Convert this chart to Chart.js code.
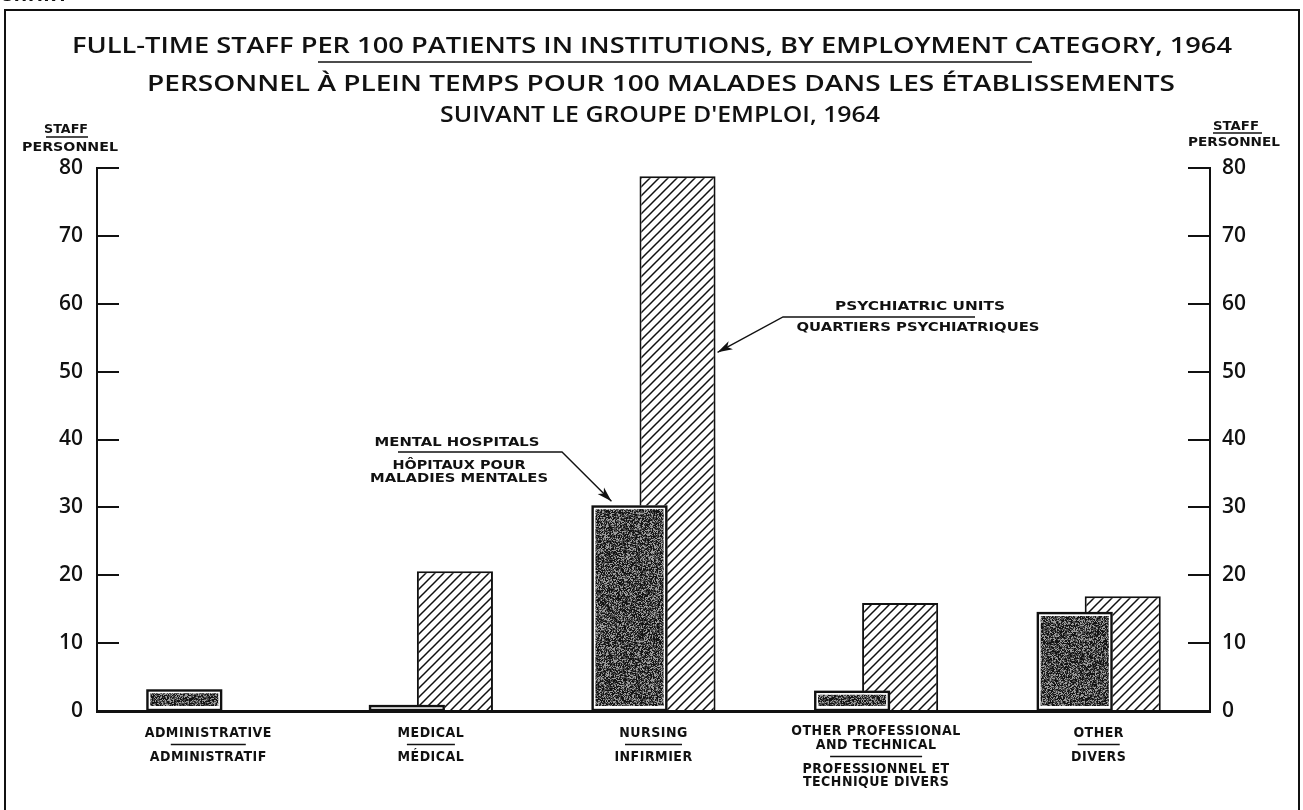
<!DOCTYPE html>
<html>
<head>
<meta charset="utf-8">
<script src="https://cdn.jsdelivr.net/npm/chart.js@4.4.1/dist/chart.umd.min.js"></script>
<style>
  html, body { margin: 0; padding: 0; background: #fff; }
  #wrap { width: 1303px; height: 810px; position: relative; }
</style>
</head>
<body>
<div id="wrap"><canvas id="chart"></canvas></div>
<script>
// --- data ---
const categoriesEn = [['ADMINISTRATIVE'], ['MEDICAL'], ['NURSING'], ['OTHER PROFESSIONAL', 'AND TECHNICAL'], ['OTHER']];
const categoriesFr = [['ADMINISTRATIF'], ['MÉDICAL'], ['INFIRMIER'], ['PROFESSIONNEL ET', 'TECHNIQUE DIVERS'], ['DIVERS']];
const mentalHospitals = [3.2, 0.9, 30.3, 3.0, 14.6];
const psychiatricUnits = [0, 20.6, 78.8, 15.9, 16.9];
const yMin = 0, yMax = 80, yStep = 10;

const titleEn = 'FULL-TIME STAFF PER 100 PATIENTS IN INSTITUTIONS, BY EMPLOYMENT CATEGORY, 1964';
const titleFr = ['PERSONNEL À PLEIN TEMPS POUR 100 MALADES DANS LES ÉTABLISSEMENTS', "SUIVANT LE GROUPE D'EMPLOI, 1964"];
const axisTitle = ['STAFF', 'PERSONNEL'];
const mentalLabel = ['MENTAL HOSPITALS', 'HÔPITAUX POUR', 'MALADIES MENTALES'];
const psychLabel = ['PSYCHIATRIC UNITS', 'QUARTIERS PSYCHIATRIQUES'];

// width of the rule between English and French under each category
const ruleWidths = [75, 48, 57, 92, 42];

const INK = '#111';

// grey speckled fill used for the mental hospital bars
function stipple() {
  const n = 128;
  const c = document.createElement('canvas');
  c.width = n; c.height = n;
  const g = c.getContext('2d');
  const img = g.createImageData(n, n);
  let s = 2463534242;
  for (let i = 0; i < n * n; i++) {
    // xorshift, only for the grain texture
    s ^= s << 13; s >>>= 0;
    s ^= s >>> 17;
    s ^= s << 5; s >>>= 0;
    const r = s & 255;
    const v = r < 95 ? 20 : r < 185 ? 75 : 155;
    img.data[i * 4] = v; img.data[i * 4 + 1] = v; img.data[i * 4 + 2] = v; img.data[i * 4 + 3] = 255;
  }
  g.putImageData(img, 0, 0);
  return g.createPattern(c, 'repeat');
}

// diagonal hatching for psychiatric units
function hatch() {
  const n = 9;
  const c = document.createElement('canvas');
  c.width = n; c.height = n;
  const g = c.getContext('2d');
  g.fillStyle = '#fff';
  g.fillRect(0, 0, n, n);
  g.strokeStyle = INK;
  g.lineWidth = 1.5;
  g.beginPath();
  g.moveTo(-1, n + 1); g.lineTo(n + 1, -1);
  g.moveTo(-1, 1); g.lineTo(1, -1);
  g.moveTo(n - 1, n + 1); g.lineTo(n + 1, n - 1);
  g.stroke();
  return g.createPattern(c, 'repeat');
}

function text(ctx, str, x, y, font, opts = {}) {
  ctx.save();
  ctx.font = font;
  ctx.fillStyle = INK;
  ctx.textBaseline = 'middle';
  ctx.letterSpacing = (opts.spacing || 0) + 'px';
  if (opts.width) {
    const w = ctx.measureText(str).width;
    ctx.translate(x, y);
    ctx.scale(opts.width / w, 1);
    ctx.textAlign = 'center';
    ctx.fillText(str, 0, 0);
  } else {
    ctx.textAlign = opts.align || 'center';
    ctx.fillText(str, x, y);
  }
  ctx.restore();
}

function rule(ctx, x1, x2, y, lw = 1.3) {
  ctx.save();
  ctx.strokeStyle = INK;
  ctx.lineWidth = lw;
  ctx.beginPath();
  ctx.moveTo(x1, y); ctx.lineTo(x2, y);
  ctx.stroke();
  ctx.restore();
}

function arrow(ctx, pts) {
  ctx.save();
  ctx.strokeStyle = INK;
  ctx.fillStyle = INK;
  ctx.lineWidth = 1.4;
  ctx.beginPath();
  ctx.moveTo(pts[0][0], pts[0][1]);
  for (let i = 1; i < pts.length; i++) ctx.lineTo(pts[i][0], pts[i][1]);
  ctx.stroke();
  const [tx, ty] = pts[pts.length - 1];
  const [px, py] = pts[pts.length - 2];
  const a = Math.atan2(ty - py, tx - px);
  ctx.translate(tx, ty);
  ctx.rotate(a);
  ctx.beginPath();
  ctx.moveTo(0, 0); ctx.lineTo(-15, -4.5); ctx.lineTo(-11, 0); ctx.lineTo(-15, 4.5);
  ctx.closePath();
  ctx.fill();
  ctx.restore();
}

const decor = {
  id: 'decor',
  beforeDraw(chart) {
    const ctx = chart.ctx;
    ctx.save();
    ctx.fillStyle = '#fff';
    ctx.fillRect(0, 0, chart.width, chart.height);
    ctx.restore();
  },
  afterDatasetsDraw(chart) {
    const ctx = chart.ctx;
    // black outline round the mental hospital bars (white gap inside)
    ctx.save();
    ctx.strokeStyle = INK;
    ctx.lineWidth = 2.4;
    chart.getDatasetMeta(0).data.forEach(bar => {
      const { x, y, base, width } = bar.getProps(['x', 'y', 'base', 'width'], true);
      const top = Math.min(y, base), h = Math.abs(base - y);
      if (h < 0.5) return;
      ctx.strokeRect(x - width / 2 + 1.2, top + 1.2, width - 2.4, h - 1.2);
    });
    ctx.restore();

    // pointers to the nursing bars
    const m = chart.getDatasetMeta(0).data[2];
    const p = chart.getDatasetMeta(1).data[2];
    arrow(ctx, [[398, 452], [562, 452], [m.x - m.width / 2 + 20, m.y - 4]]);
    arrow(ctx, [[975, 317], [783, 317], [p.x + p.width / 2 + 2, p.y + (p.base - p.y) * 0.33]]);
  },
  afterDraw(chart) {
    const ctx = chart.ctx;
    const xs = chart.scales.x;

    // frame
    ctx.save();
    ctx.strokeStyle = INK;
    ctx.lineWidth = 2;
    ctx.beginPath();
    ctx.moveTo(5, 812); ctx.lineTo(5, 10); ctx.lineTo(1299, 10); ctx.lineTo(1299, 812);
    ctx.stroke();
    ctx.restore();
    text(ctx, 'CHART', 0, -3, 'bold 16px "DejaVu Sans"', { align: 'left', spacing: 2 });

    // titles
    const tf = '600 21px "Open Sans"';
    text(ctx, titleEn, 652, 47, tf, { width: 1160 });
    rule(ctx, 318, 1032, 62, 1.6);
    text(ctx, titleFr[0], 661, 85, tf, { width: 1028 });
    text(ctx, titleFr[1], 660, 116, tf, { width: 440 });

    // axis titles
    text(ctx, axisTitle[0], 66, 130, 'bold 12px "DejaVu Sans"', { width: 44 });
    rule(ctx, 46, 88, 137, 1.3);
    text(ctx, axisTitle[1], 70, 148, 'bold 13px "DejaVu Sans"', { width: 96 });
    text(ctx, axisTitle[0], 1236, 127, 'bold 12px "DejaVu Sans"', { width: 46 });
    rule(ctx, 1213, 1262, 133, 1.3);
    text(ctx, axisTitle[1], 1234, 143, 'bold 13px "DejaVu Sans"', { width: 92 });

    // category labels, English over French
    const cf = 'bold 14px "DejaVu Sans Condensed"';
    categoriesEn.forEach((en, i) => {
      const cx = xs.getPixelForValue(i);
      let y = en.length > 1 ? 731 : 733;
      en.forEach(s => { text(ctx, s, cx, y, cf, { spacing: 0.5 }); y += 14; });
      const rw = ruleWidths[i] / 2;
      rule(ctx, cx - rw, cx + rw, y - 2.5, 1.4);
      y += 10;
      categoriesFr[i].forEach(s => { text(ctx, s, cx, y, cf, { spacing: 0.5 }); y += 13; });
    });

    // annotations
    const af = 'bold 13px "DejaVu Sans"';
    text(ctx, mentalLabel[0], 457, 443, af, { width: 165 });
    text(ctx, mentalLabel[1], 459, 466, af, { width: 133 });
    text(ctx, mentalLabel[2], 459, 479, af, { width: 178 });
    text(ctx, psychLabel[0], 920, 307, af, { width: 170 });
    text(ctx, psychLabel[1], 918, 328, af, { width: 243 });
  }
};

const yAxis = (position, padding, width) => ({
  type: 'linear',
  position,
  min: yMin,
  max: yMax,
  afterFit: s => { s.width = width; },
  ticks: { stepSize: yStep, padding, color: INK, font: { family: '"Open Sans"', size: 21, weight: '600' } },
  grid: { display: true, drawOnChartArea: false, drawTicks: true, tickLength: -22, color: INK, lineWidth: 2 },
  border: { display: true, color: INK, width: 2 }
});

new Chart(document.getElementById('chart'), {
  type: 'bar',
  data: {
    labels: categoriesEn.map(l => l.join(' ')),
    datasets: [
      {
        label: 'Mental hospitals',
        data: mentalHospitals,
        backgroundColor: stipple(),
        borderColor: '#fff',
        borderWidth: 4,
        borderSkipped: false,
        categoryPercentage: 0.4317,
        barPercentage: 1.583
      },
      {
        label: 'Psychiatric units',
        data: psychiatricUnits,
        backgroundColor: hatch(),
        borderColor: INK,
        borderWidth: 2,
        categoryPercentage: 0.4317,
        barPercentage: 1.583
      }
    ]
  },
  options: {
    responsive: true,
    maintainAspectRatio: false,
    animation: false,
    layout: { padding: { top: 168, left: 0, right: 0, bottom: 0 } },
    plugins: { legend: { display: false }, tooltip: { enabled: false } },
    scales: {
      x: {
        afterFit: s => { s.height = 99; },
        ticks: { display: false },
        grid: { display: false },
        border: { display: true, color: INK, width: 3, z: 1 }
      },
      y: yAxis('left', 36, 97),
      y2: yAxis('right', 34, 93)
    }
  },
  plugins: [decor]
});
</script>
</body>
</html>
